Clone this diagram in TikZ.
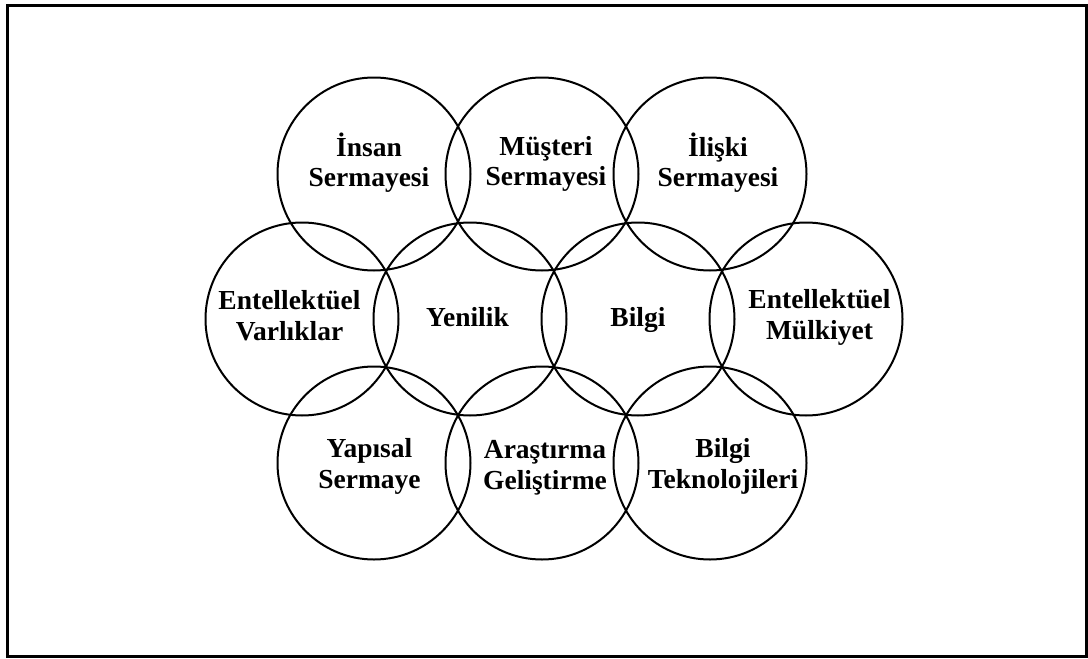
\documentclass[tikz,border=0pt]{standalone}
\usepackage{fontspec}
\setmainfont{Liberation Serif}
\tikzset{
 ring/.style={circle,draw,line width=1pt,minimum size=96.5pt,inner sep=0},
 ringtext/.style={font=\bfseries\fontsize{13.75}{15.25}\selectfont,align=center,inner sep=0},
 frame/.style={line width=1.5pt}
}

\begin{document}
\begin{tikzpicture}[x=0.5pt,y=-0.5pt]
\path[use as bounding box] (0,0) rectangle (1088,659);
\draw[frame] (7,5) rectangle (1086,656);
% top row
\node[ring] (insan) at (374,174) {};
\node[ring] (musteri) at (542,174) {};
\node[ring] (iliski) at (710,174) {};
% middle row
\node[ring] (varlik) at (302,319) {};
\node[ring] (yenilik) at (470,319) {};
\node[ring] (bilgi) at (638,319) {};
\node[ring] (mulkiyet) at (806,319) {};
% bottom row
\node[ring] (yapisal) at (374,463) {};
\node[ring] (arge) at (542,463) {};
\node[ring] (teknoloji) at (710,463) {};
% labels
\node[ringtext] (insan-t) at (369,164.5) {\strut İnsan\\\strut Sermayesi};
\node[ringtext] (musteri-t) at (546,164.5) {\strut Müşteri\\\strut Sermayesi};
\node[ringtext] (iliski-t) at (718,164.5) {\strut İlişki\\\strut Sermayesi};
\node[ringtext] (varlik-t) at (289.5,319) {\strut Entellektüel\\\strut Varlıklar};
\node[ringtext] (yenilik-t) at (467.5,320) {\strut Yenilik};
\node[ringtext] (bilgi-t) at (638,320) {\strut Bilgi};
\node[ringtext] (mulkiyet-t) at (819.5,318) {\strut Entellektüel\\\strut Mülkiyet};
\node[ringtext] (yapisal-t) at (369.5,467) {\strut Yapısal\\\strut Sermaye};
\node[ringtext] (arge-t) at (545,468) {\strut Araştırma\\\strut Geliştirme};
\node[ringtext] (teknoloji-t) at (723,467) {\strut Bilgi\\\strut Teknolojileri};
\end{tikzpicture}
\end{document}
